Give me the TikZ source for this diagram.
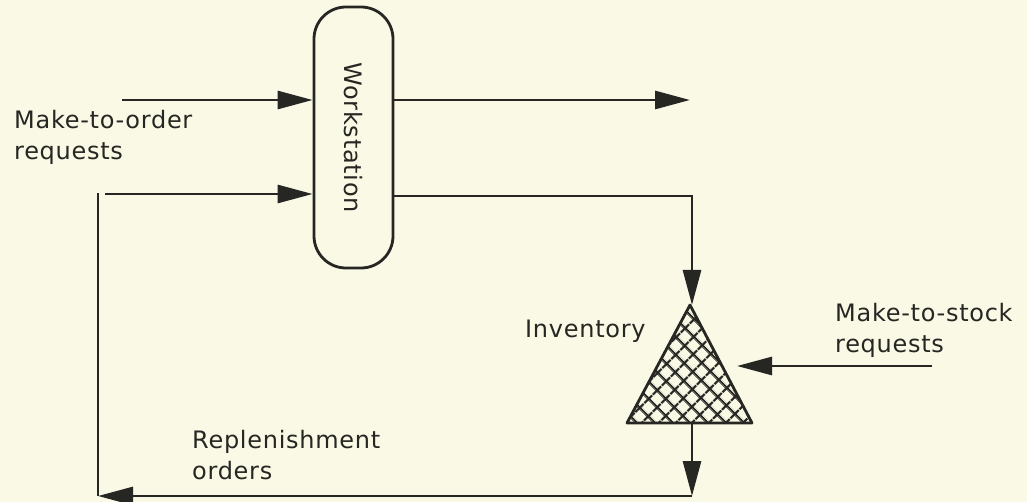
\documentclass[tikz,border=0pt]{standalone}
\usepackage{fontspec}
\setmainfont[LetterSpace=3]{DejaVu Sans}
\usepackage{graphicx}
\usetikzlibrary{arrows.meta}
\usetikzlibrary{patterns.meta}
\usetikzlibrary{positioning}
\definecolor{paper}{RGB}{250,249,230}
\definecolor{ink}{RGB}{38,38,34}
\tikzset{basic line/.style={draw=ink,
                            line width=2.8pt}}
\tikzset{flow/.style={basic line,-{Triangle[length=35pt,width=18pt]}}}
\tikzset{station/.style={basic line,
                         rounded corners=32pt,
                         minimum width=79pt,
                         minimum height=261pt,
                         inner sep=0pt,
                         text=ink,
                         font=\fontsize{24}{31}\selectfont}}
\tikzset{caption/.style={anchor=base west,
                         align=left,
                         inner sep=0pt,
                         text=ink,
                         font=\fontsize{24}{31}\selectfont}}

\begin{document}
\begin{tikzpicture}[x=1pt,y=-1pt]

      % paper
      \fill[paper] (0,0) rectangle (1027,502);
      \useasboundingbox (0,0) rectangle (1027,502);

      % workstation
      \node [station] (WS) at (353.5,137.5) {\rotatebox{-90}{Workstation}};

      % inventory
      \coordinate (I1) at (690,305);
      \coordinate (I2) at (752,423);
      \coordinate (I3) at (627,423);
      \coordinate (IB) at (690,423);
      \fill [pattern={Hatch[angle=45,distance=13pt,line width=2.4pt]},pattern color=ink]
      (I1) -- (I2) -- (I3) -- cycle;
      \draw [basic line,line join=round] (I1) -- (I2) -- (I3) -- cycle;

      % labels (base is the last line)
      \node [caption] (MTO) at (14,160) {Make-to-order\\requests};
      \node [caption] (MTS) at (835,352) {Make-to-stock\\requests};
      \node [caption] (INV) at (525,337) {Inventory};
      \node [caption] (REP) at (192,479) {Replenishment\\orders};

      % end points
      \coordinate (A1) at (122,100);
      \coordinate (A2) at (105,194);
      \coordinate (O1) at (690,100);
      \coordinate (O2) at (692,196);
      \coordinate (S1) at (932,366);
      \coordinate (S2) at (737,366);
      \coordinate (B1) at (692,496);
      \coordinate (B2) at (98,496);
      \coordinate (B3) at (98,193);

      % edges
      \draw [flow] (A1) -- (A1 -| WS.west);
      \draw [flow] (A2) -- (A2 -| WS.west);
      \draw [flow] (O1 -| WS.east) -- (O1);
      \draw [flow] (O2 -| WS.east) -- (O2) -- (O2 |- I1);
      \draw [flow] (S1) -- (S2);
      \draw [flow] (B1 |- IB) -- (B1);
      \draw [flow] (B1) -- (B2);
      \draw [basic line] (B2) -- (B3);

\end{tikzpicture}
\end{document}
